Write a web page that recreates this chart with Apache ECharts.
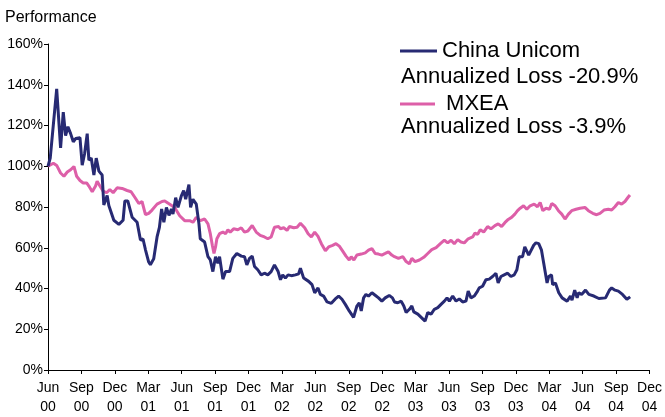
<!DOCTYPE html>
<html>
<head>
<meta charset="utf-8">
<script src="https://cdn.jsdelivr.net/npm/echarts@6/dist/echarts.min.js"></script>
<style>
  html, body { margin: 0; padding: 0; background: #fff; }
  #chart { width: 665px; height: 417px; }
</style>
</head>
<body>
<div id="chart"></div>
<script>
// x values are months after June 2000
var quarterLabels = ['Jun\n00','Sep\n00','Dec\n00','Mar\n01','Jun\n01','Sep\n01','Dec\n01','Mar\n02','Jun\n02','Sep\n02','Dec\n02','Mar\n03','Jun\n03','Sep\n03','Dec\n03','Mar\n04','Jun\n04','Sep\n04','Dec\n04'];

var cuMonths = [0,0.2,0.78,1.13,1.37,1.58,1.79,2.03,2.27,2.48,2.87,3.07,3.28,3.52,3.67,3.88,4.12,4.33,4.57,4.86,5.01,5.31,5.46,5.91,6.36,6.74,6.9,7.16,7.55,8.0,8.3,8.53,8.75,9.04,9.19,9.49,9.79,10.0,10.2,10.4,10.63,10.86,11.08,11.22,11.46,11.67,11.97,12.18,12.36,12.65,12.8,13.01,13.31,13.55,13.67,14.06,14.36,14.57,14.8,15.04,15.25,15.4,15.7,15.94,16.3,16.59,16.95,17.35,17.64,17.85,18.09,18.33,18.54,18.83,19.14,19.43,19.73,20.03,20.33,20.66,20.87,21.07,21.31,21.55,21.85,22.21,22.5,22.66,22.95,23.4,23.7,23.94,24.24,24.45,24.74,25.05,25.43,25.79,26.09,26.39,26.69,27.04,27.43,27.73,27.94,28.12,28.33,28.54,28.77,29.08,29.37,29.67,29.97,30.27,30.63,30.92,31.1,31.4,31.7,31.94,32.15,32.44,32.66,32.84,33.2,33.85,34.09,34.39,34.68,34.99,35.28,35.58,35.82,36.03,36.33,36.63,36.92,37.22,37.52,37.72,37.97,38.26,38.5,38.71,39.01,39.31,39.61,39.91,40.21,40.41,40.66,40.95,41.26,41.55,41.85,42.09,42.3,42.6,42.8,43.15,43.6,43.8,44.05,44.3,44.5,44.8,44.95,45.2,45.3,45.55,45.85,46.15,46.6,46.9,47.04,47.28,47.5,47.64,47.9,48.25,48.55,49.0,49.45,50.05,50.4,50.6,50.9,51.2,51.57,51.96,52.26];
var cuValues = [100,104,138,109,126.6,115,119.4,116,112,113.6,114,100.5,106,116,103,104,95.7,104,97.6,95.7,81,85.6,80.7,73.5,71.5,73.5,83,83,75,72.5,63.8,64.3,59,53,51.7,54.6,65.3,70,79,72.5,79.8,75.9,79,76.5,84.6,79.8,85.5,88,83.8,91,79.8,83.8,81.4,71.7,64.4,62.8,55.6,54,48.3,55.6,52.4,55.6,44.6,48.3,48.3,54.8,57.2,55.9,55.6,51.6,54.8,55.9,50.8,49.2,46.7,47.5,46.7,48.3,51.6,48.3,44.3,46.7,45.1,46.7,46.3,46.7,47.2,49.9,45.1,43.5,41.9,37.9,40.3,37.1,36.3,33.4,32.7,34.9,36.3,34.7,32.2,29,25.8,31.4,33,29,35.4,37.1,36.3,37.9,36.7,35.4,33.8,35.4,36.6,35.4,33.4,33,33.8,31.4,28.2,29.8,31.4,28.5,27.4,24,28.2,27.4,29.8,30.6,32.2,33.8,35.4,33.8,36.3,33.8,34.9,33.4,33.8,38.7,35.4,36.3,38.2,40.3,41.1,44.3,44.6,45.9,47.5,42.7,45.9,46.7,47.5,45.9,46.7,49.2,55.6,55.6,60.4,56.4,61.2,62.4,62,58.8,52.4,42.7,45.9,46.7,41.9,42.7,37.9,35.4,33.8,36.3,34.3,39.2,35.4,37.9,37.1,39.2,37.1,36.3,35.1,35.4,39.2,40.3,39.2,38.7,37.1,34.7,35.9];

var mxMonths = [0,0.48,0.78,1.13,1.43,1.73,2.03,2.33,2.57,2.87,3.16,3.47,3.67,3.97,4.27,4.41,4.66,4.95,5.26,5.55,5.85,6.2,6.65,7.1,7.46,7.85,8.15,8.44,8.75,9.04,9.34,9.79,10.24,10.48,10.93,11.37,11.82,12.27,12.72,13.01,13.31,13.67,14.06,14.36,14.57,14.75,14.9,15.04,15.16,15.4,15.7,15.94,16.15,16.36,16.66,17.04,17.35,17.64,17.94,18.33,18.69,19.05,19.43,19.73,20.03,20.33,20.71,20.87,21.16,21.46,21.67,22.06,22.36,22.66,23.04,23.35,23.64,23.94,24.24,24.54,24.9,25.19,25.55,25.85,26.15,26.44,26.75,27.04,27.22,27.46,27.73,28.12,28.48,28.77,29.08,29.37,29.67,29.97,30.27,30.56,30.86,31.1,31.46,31.85,32.15,32.44,32.66,32.95,33.34,33.73,34.09,34.45,34.84,35.22,35.58,35.88,36.18,36.47,36.78,37.07,37.37,37.72,38.12,38.33,38.57,38.8,39.11,39.46,39.76,40.12,40.41,40.72,41.01,41.31,41.61,41.91,42.15,42.39,42.69,42.98,43.28,43.64,43.94,44.18,44.42,44.71,45.02,45.22,45.52,45.82,46.12,46.41,46.72,47.01,47.4,47.76,48.2,48.51,48.9,49.25,49.55,49.91,50.3,50.6,50.89,51.2,51.49,51.79,52.09,52.24];
var mxValues = [100,101.5,100.4,96.7,95.1,97.2,98.3,99.9,95.1,93,91.8,91.8,90.3,87.5,90.3,92.7,90.3,87.8,87,88.6,87,89.4,89.1,88.1,87.5,84.3,81.7,82.7,76.2,76.9,78.5,81.4,82.7,83,81.4,79.8,75.7,73.3,73.3,72.5,74.9,73.3,74.1,71.7,66.9,61.2,57.2,60.4,64.4,66.9,67.7,66.9,68.8,67.7,69.3,68.8,69.8,67.7,68.2,70.9,67.7,66.1,65.3,64.4,65.3,70.1,70.4,69.3,69.8,68.5,70.4,69.8,70.1,72,69.8,66.9,65.3,67.7,65.6,62,58.5,60.4,61.2,62,60.8,58.5,55.9,54,55.6,54,56.4,56.9,57.5,58.8,59.6,57.2,56.9,56.4,57.2,58,56.4,55.6,54.8,55.6,53.2,52.1,54.8,53.2,54,55.3,57.2,59.1,60.1,62,63.7,62.4,63.7,62,64,62.8,62.4,64.4,65.3,67.2,66.6,68.8,67.7,70.4,69.3,70.9,71.7,70.4,72.3,73.9,74.9,76.5,78.2,79.4,80.6,78.9,80.6,81.4,80.1,82.2,78.2,79.4,78.9,81.7,80.6,78.2,76.5,74.1,76.5,78.2,78.9,79.4,79.8,78.2,76.9,76.2,76.9,78.5,78.9,78.5,80.1,82.2,81.4,82.7,84.9,85.9];

var seriesNames = ['China Unicom', 'MXEA'];
var legendNotes = ['Annualized Loss -20.9%', 'Annualized Loss -3.9%'];

function pairs(xs, ys) { return xs.map(function (x, i) { return [x, ys[i]]; }); }

var FONT = 'Liberation Sans, Arial, sans-serif';
var CU_COLOR = '#272A73';
var MX_COLOR = '#DD5FA8';

var chart = echarts.init(document.getElementById('chart'), null, { renderer: 'canvas' });
chart.setOption({
  animation: false,
  backgroundColor: '#ffffff',
  title: {
    text: 'Performance', left: 5, top: 10, padding: 0,
    textStyle: { fontFamily: FONT, fontSize: 16, fontWeight: 'normal', color: '#000' }
  },
  grid: { left: 48, right: 15, top: 44, bottom: 42, containLabel: false },
  legend: [
    {
      data: [seriesNames[0]], left: 400, top: 40, padding: 0, orient: 'vertical',
      icon: 'rect', itemWidth: 37, itemHeight: 3,
      textStyle: { fontFamily: FONT, fontSize: 22, color: '#000' }
    },
    {
      data: [seriesNames[1]], left: 400, top: 93, padding: 0, orient: 'vertical',
      icon: 'rect', itemWidth: 35, itemHeight: 3,
      formatter: function (n) { return ' ' + n; },
      textStyle: { fontFamily: FONT, fontSize: 22, color: '#000' }
    }
  ],
  graphic: [
    { type: 'text', left: 401, top: 66, style: { text: legendNotes[0], font: '22px ' + FONT, fill: '#000' } },
    { type: 'text', left: 401, top: 116, style: { text: legendNotes[1], font: '22px ' + FONT, fill: '#000' } }
  ],
  xAxis: {
    type: 'value', min: 0, max: 54, interval: 3,
    splitLine: { show: false },
    axisLine: { lineStyle: { color: '#000', width: 1 } },
    axisTick: { show: true, length: 4, inside: false, lineStyle: { color: '#000' } },
    axisLabel: {
      margin: 9, showMinLabel: true, showMaxLabel: true,
      fontFamily: FONT, fontSize: 14, lineHeight: 19, color: '#000',
      formatter: function (v) { return quarterLabels[Math.round(v / 3)] || ''; }
    }
  },
  yAxis: {
    type: 'value', min: 0, max: 160, interval: 20,
    splitLine: { show: false },
    axisLine: { show: true, lineStyle: { color: '#000', width: 1 } },
    axisTick: { show: true, length: 4, lineStyle: { color: '#000' } },
    axisLabel: { margin: 5, fontFamily: FONT, fontSize: 14, color: '#000', formatter: '{value}%' }
  },
  series: [
    {
      name: seriesNames[1], type: 'line', data: pairs(mxMonths, mxValues),
      showSymbol: false, symbol: 'none', color: MX_COLOR,
      lineStyle: { color: MX_COLOR, width: 3 }, z: 2
    },
    {
      name: seriesNames[0], type: 'line', data: pairs(cuMonths, cuValues),
      showSymbol: false, symbol: 'none', color: CU_COLOR,
      lineStyle: { color: CU_COLOR, width: 3 }, z: 3
    }
  ]
});
</script>
</body>
</html>
